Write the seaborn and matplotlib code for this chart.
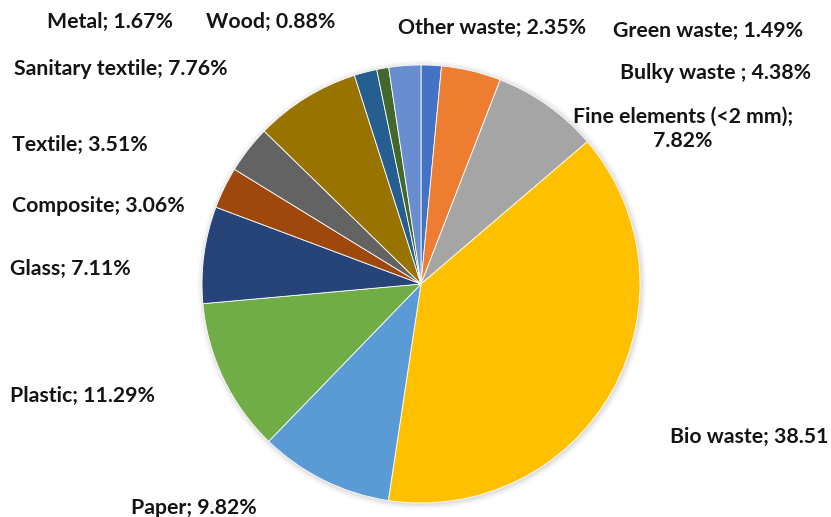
import matplotlib
matplotlib.use("Agg")
import matplotlib.pyplot as plt
import seaborn as sns

# Composition of residual household waste (% of total mass)
categories = ["Green waste", "Bulky waste ", "Fine elements (<2 mm)", "Bio waste",
              "Paper", "Plastic", "Glass", "Composite", "Textile",
              "Sanitary textile", "Metal", "Wood", "Other waste"]
shares = [1.49, 4.38, 7.82, 38.51, 9.82, 11.29, 7.11, 3.06, 3.51, 7.76, 1.67, 0.88, 2.35]
label_texts = ["Green waste; 1.49%", "Bulky waste ; 4.38%", "Fine elements (<2 mm);\n7.82%",
               "Bio waste; 38.51", "Paper; 9.82%", "Plastic; 11.29%", "Glass; 7.11%",
               "Composite; 3.06%", "Textile; 3.51%", "Sanitary textile; 7.76%",
               "Metal; 1.67%", "Wood; 0.88%", "Other waste; 2.35%"]
slice_colors = ["#4472C4", "#ED7D31", "#A5A5A5", "#FFC000", "#5B9BD5", "#70AD47",
                "#264478", "#9E480E", "#636363", "#997300", "#255E91", "#43682B", "#698ED0"]

sns.set_theme(style="white")
plt.rcParams["font.family"] = ["Lato", "DejaVu Sans"]
palette = sns.color_palette(slice_colors)

W, H = 831, 517
fig = plt.figure(figsize=(W / 100, H / 100), dpi=100)
ax = fig.add_axes([0, 0, 1, 1])

cx, cy, r = 421, H - 284, 219

# soft shadow halo behind the pie
for k, a in enumerate([0.035, 0.03, 0.025, 0.02, 0.015]):
    ax.add_patch(plt.Circle((cx + 1, cy - 1), r + 1 + k * 1.2, color="black",
                            alpha=a, lw=0, zorder=0))

ax.pie(shares, colors=palette, startangle=90, counterclock=False,
       center=(cx, cy), radius=r, frame=True,
       wedgeprops=dict(edgecolor="white", linewidth=0.6))
ax.set_xlim(0, W)
ax.set_ylim(0, H)
ax.set_aspect("equal")
ax.axis("off")

# label anchor points (pixel coordinates, from top-left)
label_pos = {
    "Green waste": (708, 31, "center"),
    "Bulky waste ": (716, 73, "center"),
    "Fine elements (<2 mm)": (683, 129, "center"),
    "Bio waste": (670, 437, "left"),
    "Paper": (194, 508, "center"),
    "Plastic": (83, 396, "center"),
    "Glass": (70, 269, "center"),
    "Composite": (98, 206, "center"),
    "Textile": (80, 145, "center"),
    "Sanitary textile": (121, 69, "center"),
    "Metal": (110, 22, "center"),
    "Wood": (271, 22, "center"),
    "Other waste": (492, 28, "center"),
}
for cat, txt in zip(categories, label_texts):
    x, y, ha = label_pos[cat]
    ax.text(x, H - y, txt, ha=ha, va="center", fontsize=15.3, fontweight="bold",
            color="#141414", linespacing=1.3)

fig.savefig("out.png", dpi=100, facecolor="white")
